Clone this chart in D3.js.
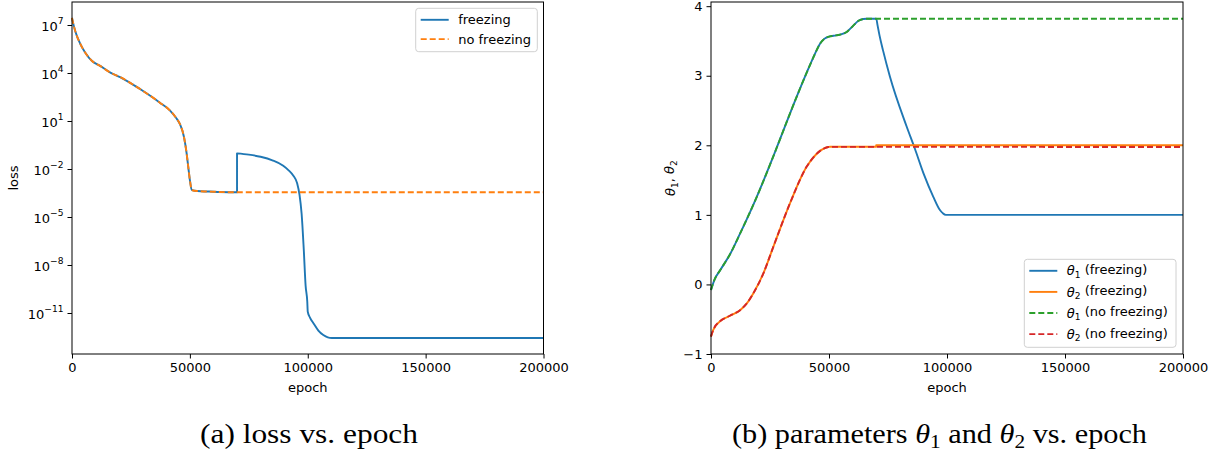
<!DOCTYPE html>
<html>
<head>
<meta charset="utf-8">
<script src="https://cdn.jsdelivr.net/npm/d3@7"></script>
<style>
  body { margin: 0; background: #fff; }
  svg { display: block; font-family: "DejaVu Sans", sans-serif; }
  .axis text { font-size: 13px; fill: #000; font-family: "DejaVu Sans", sans-serif; }
  .axis path, .axis line { stroke: #000; stroke-width: 1; }
</style>
</head>
<body>
<svg id="chart" width="1217" height="453"></svg>
<script>
// loss curve (a): epoch / loss
const lossEpochFrz = [0, 850, 2100, 3400, 5500, 8500, 11900, 16100, 20400, 28850, 37300, 41600, 44100, 45800,
  47500, 48600, 49300, 50100, 50800, 52000, 60000, 70000,
  70000, 75000, 80000, 85000, 89600, 92000, 93900, 95500, 96500, 97400, 98300, 99100, 99800, 100000,
  101000, 102400, 104500, 106600, 108500, 110200, 200000];
const lossFrz = [2.8e7, 7.9e6, 2.0e6, 7.2e5, 2.0e5, 5.6e4, 2.8e4, 1.1e4, 5.6e3, 1.0e3, 1.4e2, 4.5e1, 1.6e1, 6.3,
  1.0, 1.0e-1, 1.4e-2, 1.6e-3, 4.9e-4, 4.4e-4, 3.8e-4, 3.5e-4,
  9.5e-2, 7.9e-2, 5.8e-2, 3.5e-2, 1.6e-2, 8.0e-3, 3.8e-3, 1.3e-3, 2.5e-4, 1.6e-5, 1.0e-7, 5.0e-10, 5.0e-11, 1.2e-11,
  5.0e-12, 2.3e-12, 8.0e-13, 4.2e-13, 3.0e-13, 2.75e-13, 2.75e-13];
const lossEpochNoFrz = [0, 850, 2100, 3400, 5500, 8500, 11900, 16100, 20400, 28850, 37300, 41600, 44100, 45800,
  47500, 48600, 49300, 50100, 50800, 52000, 60000, 70000, 200000];
const lossNoFrz = [2.8e7, 7.9e6, 2.0e6, 7.2e5, 2.0e5, 5.6e4, 2.8e4, 1.1e4, 5.6e3, 1.0e3, 1.4e2, 4.5e1, 1.6e1, 6.3,
  1.0, 1.0e-1, 1.4e-2, 1.6e-3, 4.9e-4, 4.4e-4, 3.8e-4, 3.5e-4, 3.5e-4];

// parameters (b): theta values per epoch
const th1EpochFrz = [0, 1500, 3800, 8000, 12300, 19400, 26400, 33500, 40500, 44000, 46200, 48000, 49700, 52000,
  54700, 57500, 60300, 62500, 64500, 66000, 70000, 70600, 71400, 73000, 75800, 82900, 86400, 90000, 94200, 97000,
  98200, 99500, 200000];
const th1Frz = [-0.08, 0.07, 0.2, 0.43, 0.73, 1.26, 1.84, 2.46, 3.04, 3.31, 3.46, 3.53, 3.56, 3.575,
  3.59, 3.63, 3.72, 3.79, 3.815, 3.82, 3.82, 3.72, 3.58, 3.35, 2.99, 2.27, 1.95, 1.60, 1.26, 1.07,
  1.025, 1.0, 1.0];
const th2EpochFrz = [0, 1000, 3800, 8000, 12300, 15000, 17900, 22200, 26400, 33500, 40500, 44000, 46200, 48000,
  49700, 50500, 70000, 70000, 200000];
const th2Frz = [-0.75, -0.65, -0.53, -0.45, -0.37, -0.28, -0.13, 0.16, 0.54, 1.17, 1.69, 1.85, 1.92, 1.955,
  1.975, 1.98, 1.98, 2.0, 2.0];
const th1EpochNoFrz = [0, 1500, 3800, 8000, 12300, 19400, 26400, 33500, 40500, 44000, 46200, 48000, 49700, 52000,
  54700, 57500, 60300, 62500, 64500, 66000, 200000];
const th1NoFrz = [-0.08, 0.07, 0.2, 0.43, 0.73, 1.26, 1.84, 2.46, 3.04, 3.31, 3.46, 3.53, 3.56, 3.575,
  3.59, 3.63, 3.72, 3.79, 3.815, 3.82, 3.82];
const th2EpochNoFrz = [0, 1000, 3800, 8000, 12300, 15000, 17900, 22200, 26400, 33500, 40500, 44000, 46200, 48000,
  49700, 50500, 200000];
const th2NoFrz = [-0.75, -0.65, -0.53, -0.45, -0.37, -0.28, -0.13, 0.16, 0.54, 1.17, 1.69, 1.85, 1.92, 1.955,
  1.975, 1.978, 1.975];

const xTicks = [0, 50000, 100000, 150000, 200000];
const lossTicks = [1e7, 1e4, 1e1, 1e-2, 1e-5, 1e-8, 1e-11];
const thetaTicks = [-1, 0, 1, 2, 3, 4];

const C = { blue: "#1f77b4", orange: "#ff7f0e", green: "#2ca02c", red: "#d62728" };
const svg = d3.select("#chart");
const yTop = 2, yBot = 354;

const zip = (xs, ys) => xs.map((x, i) => [x, ys[i]]);

// smooth between points, but keep the vertical jumps (repeated epochs) sharp
function drawLine(g, pts, x, y, color, dashed) {
  const line = d3.line().x(d => x(d[0])).y(d => y(d[1])).curve(d3.curveMonotoneX);
  const segs = [[pts[0]]];
  for (let i = 1; i < pts.length; i++) {
    if (pts[i][0] === pts[i - 1][0]) segs.push([pts[i]]);
    else segs[segs.length - 1].push(pts[i]);
  }
  const d = segs.map((s, i) => {
    const p = s.length > 1 ? line(s) : `M${x(s[0][0])},${y(s[0][1])}`;
    return i ? "L" + p.slice(1) : p;
  }).join("");
  g.append("path")
    .attr("fill", "none")
    .attr("stroke", color)
    .attr("stroke-width", 1.9)
    .attr("stroke-dasharray", dashed ? "6,3" : null)
    .attr("stroke-linejoin", "round")
    .attr("d", d);
}

function frame(x0, x1) {
  svg.append("rect")
    .attr("x", x0).attr("y", yTop)
    .attr("width", x1 - x0).attr("height", yBot - yTop)
    .attr("fill", "none").attr("stroke", "#000").attr("stroke-width", 1);
}

function xAxis(x) {
  const g = svg.append("g").attr("class", "axis")
    .attr("transform", `translate(0,${yBot})`)
    .call(d3.axisBottom(x).tickValues(xTicks).tickFormat(d3.format("d")).tickSize(4.5).tickPadding(4));
  g.select(".domain").remove();
}

function legend(x0, y0, w, h, items, rowH) {
  const g = svg.append("g");
  g.append("rect").attr("x", x0).attr("y", y0).attr("width", w).attr("height", h)
    .attr("rx", 3).attr("fill", "#fff").attr("fill-opacity", 0.8)
    .attr("stroke", "#d0d0d0").attr("stroke-width", 1);
  items.forEach((it, i) => {
    const cy = y0 + 11.5 + i * rowH;
    g.append("line").attr("x1", x0 + 5).attr("x2", x0 + 33).attr("y1", cy).attr("y2", cy)
      .attr("stroke", it.color).attr("stroke-width", 1.9)
      .attr("stroke-dasharray", it.dashed ? "6,3" : null);
    const t = g.append("text").attr("x", x0 + 42.5).attr("y", cy + 4.6)
      .attr("font-size", 13);
    it.label(t);
  });
}

// ---------- (a) loss vs epoch ----------
const xa = d3.scaleLinear().domain([0, 200000]).range([72, 543.5]);
const ya = d3.scaleLog().domain([Math.pow(10, -13.5625), Math.pow(10, 8.4375)]).range([yBot, yTop]);

const ga = svg.append("g");
drawLine(ga, zip(lossEpochFrz, lossFrz), xa, ya, C.blue, false);
drawLine(ga, zip(lossEpochNoFrz, lossNoFrz), xa, ya, C.orange, true);
frame(72, 543.5);
xAxis(xa);

const yaG = svg.append("g").attr("class", "axis")
  .attr("transform", "translate(72,0)")
  .call(d3.axisLeft(ya).tickValues(lossTicks).tickSize(4.5).tickPadding(4).tickFormat(""));
yaG.select(".domain").remove();
yaG.selectAll(".tick text").each(function (d) {
  const e = Math.round(Math.log10(d));
  const t = d3.select(this).text(null).attr("dy", "0.4em");
  t.append("tspan").text("10");
  t.append("tspan").attr("font-size", "0.7em").attr("dy", "-0.75em")
    .text(e < 0 ? "\u2212" + (-e) : e);
});

svg.append("text").attr("transform", "translate(18,178) rotate(-90)")
  .attr("text-anchor", "middle").attr("font-size", 13).text("loss");
svg.append("text").attr("x", (72 + 543.5) / 2).attr("y", 392)
  .attr("text-anchor", "middle").attr("font-size", 13).text("epoch");

legend(415.7, 8.3, 121.6, 43.4, [
  { color: C.blue, dashed: false, label: t => t.text("freezing") },
  { color: C.orange, dashed: true, label: t => t.text("no freezing") }
], 19.3);

// ---------- (b) parameters vs epoch ----------
const xb = d3.scaleLinear().domain([0, 200000]).range([711, 1183]);
const yb = d3.scaleLinear().domain([-1, 4.06]).range([yBot, yTop]);

const gb = svg.append("g");
drawLine(gb, zip(th1EpochFrz, th1Frz), xb, yb, C.blue, false);
drawLine(gb, zip(th2EpochFrz, th2Frz), xb, yb, C.orange, false);
drawLine(gb, zip(th1EpochNoFrz, th1NoFrz), xb, yb, C.green, true);
drawLine(gb, zip(th2EpochNoFrz, th2NoFrz), xb, yb, C.red, true);
frame(711, 1183);
xAxis(xb);

const ybG = svg.append("g").attr("class", "axis")
  .attr("transform", "translate(711,0)")
  .call(d3.axisLeft(yb).tickValues(thetaTicks).tickSize(4.5).tickPadding(4)
    .tickFormat(d => d < 0 ? "\u2212" + (-d) : d));
ybG.select(".domain").remove();

function theta(t, sub, rest) {
  t.append("tspan").attr("font-style", "italic").text("\u03b8");
  t.append("tspan").attr("font-size", "0.7em").attr("dy", "0.3em").text(sub);
  t.append("tspan").attr("dy", "-0.3em").text(rest);
}

const yl = svg.append("text").attr("transform", "translate(675,178) rotate(-90)")
  .attr("text-anchor", "middle").attr("font-size", 13);
theta(yl, "1", ", ");
theta(yl, "2", "");
svg.append("text").attr("x", (711 + 1183) / 2).attr("y", 392)
  .attr("text-anchor", "middle").attr("font-size", 13).text("epoch");

legend(1024.3, 259.3, 151.7, 88, [
  { color: C.blue, dashed: false, label: t => theta(t, "1", " (freezing)") },
  { color: C.orange, dashed: false, label: t => theta(t, "2", " (freezing)") },
  { color: C.green, dashed: true, label: t => theta(t, "1", " (no freezing)") },
  { color: C.red, dashed: true, label: t => theta(t, "2", " (no freezing)") }
], 21.1);

// ---------- captions ----------
const capFont = "'Liberation Serif', 'DejaVu Serif', serif";
svg.append("text").attr("x", 200).attr("y", 443).attr("font-family", capFont)
  .attr("font-size", 27).attr("textLength", 218).attr("lengthAdjust", "spacingAndGlyphs")
  .text("(a) loss vs. epoch");

const cb = svg.append("text").attr("x", 732).attr("y", 443).attr("font-family", capFont)
  .attr("font-size", 27).attr("textLength", 415).attr("lengthAdjust", "spacingAndGlyphs");
cb.append("tspan").text("(b) parameters ");
cb.append("tspan").attr("font-style", "italic").text("\u03b8");
cb.append("tspan").attr("font-size", 19).attr("dy", 5).text("1");
cb.append("tspan").attr("dy", -5).text(" and ");
cb.append("tspan").attr("font-style", "italic").text("\u03b8");
cb.append("tspan").attr("font-size", 19).attr("dy", 5).text("2");
cb.append("tspan").attr("dy", -5).text(" vs. epoch");
</script>
</body>
</html>
